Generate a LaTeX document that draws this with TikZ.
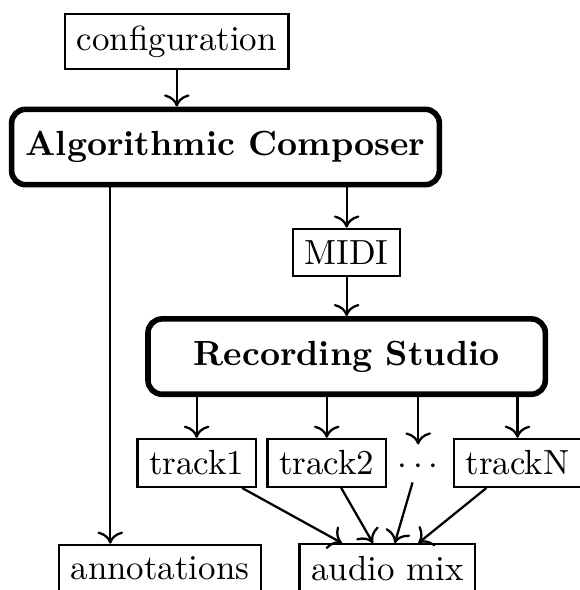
\documentclass[tikz,border=0pt]{standalone}
\usepackage{tikz}
\usetikzlibrary{arrows.meta}
\begin{document}
\begin{tikzpicture}[>={To[scale=1.15]},
  box/.style={draw, line width=0.65pt},
  bigbox/.style={draw, ultra thick, rounded corners=4pt, font=\bfseries, inner xsep=4pt, inner ysep=6.3pt},
  dotsbox/.style={inner xsep=2pt, inner ysep=2pt, text height=1.5ex, text depth=0pt},
  arr/.style={line width=0.65pt, ->}]
\useasboundingbox (0,0) rectangle (5.83,-5.94);
%
\node[box] (config) at (1.78,-0.42) {configuration};
\node[bigbox] (composer) at (2.27,-1.48) {Algorithmic Composer};
\node[box] (midi) at (3.49,-2.54) {MIDI};
\node[bigbox, minimum width=4cm] (studio) at (3.49,-3.59) {Recording Studio};
%
\node[box] (track1) at (1.98,-4.66) {track1};
\node[box] (track2) at (3.29,-4.66) {track2};
\coordinate (dotsX) at (4.21,0);
\node[dotsbox, anchor=base] (dots) at (track1.base -| dotsX) {$\cdots$};
\node[box] (trackN) at (5.21,-4.66) {trackN};
%
\node[box] (annot) at (1.61,-5.72) {annotations};
\node[box] (mix) at (3.90,-5.72) {audio mix};
\coordinate (annX) at (1.11,0);
%
\draw[arr] (config) -- (config |- composer.north);
\draw[arr] (composer.south -| midi) -- (midi);
\draw[arr] (midi) -- (studio);
\draw[arr] (composer.south -| annX) -- (annot.north -| annX);
%
\draw[arr] (studio.south -| track1) -- (track1);
\draw[arr] (studio.south -| track2) -- (track2);
\draw[arr] (studio.south -| dots) -- (dots);
\draw[arr] (studio.south -| trackN) -- (trackN);
%
\draw[arr] (track1) -- (mix);
\draw[arr] (track2) -- (mix);
\draw[arr] (dots) -- (mix);
\draw[arr] (trackN) -- (mix);
\end{tikzpicture}
\end{document}
